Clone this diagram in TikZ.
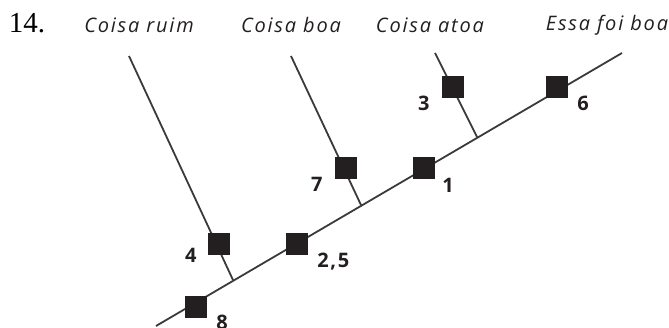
\documentclass[tikz,border=0pt]{standalone}
\usepackage{fontspec}
\setmainfont{Open Sans}
\newfontfamily\itemfont{Liberation Serif}
\newfontfamily\taxonfont[LetterSpace=9]{Open Sans}
\newfontfamily\numfont[LetterSpace=8]{Open Sans}
\usetikzlibrary{positioning}
\definecolor{linegray}{HTML}{3A3A3A}
\definecolor{boxblack}{HTML}{231F20}
\tikzset{
branch/.style={draw=linegray,line width=1.8pt},
charbox/.style={rectangle,fill=boxblack,minimum size=22pt,inner sep=0pt},
charnum/.style={inner sep=0pt,text=boxblack,font=\numfont\fontsize{20}{20}\selectfont\bfseries},
taxon/.style={inner sep=0pt,text=boxblack,font=\taxonfont\itshape\fontsize{20}{20}\selectfont}
}

\begin{document}
\begin{tikzpicture}[x=1pt,y=-1pt]
\useasboundingbox (0,0) rectangle (669,328);
% item number and taxa
\node[inner sep=0pt,font=\itemfont\fontsize{29}{29}\selectfont] (item) at (27,23) {14.};
\node[taxon] (ruim) at (139,25) {Coisa ruim};
\node[taxon] (boa) at (291,25) {Coisa boa};
\node[taxon] (atoa) at (430,25) {Coisa atoa};
\node[taxon] (foi) at (607,25) {Essa foi boa};

% tree
\coordinate (root) at (156,326);
\coordinate (tip) at (622,53);
\coordinate (jruim) at (233,280);
\coordinate (jboa) at (361,205);
\coordinate (jatoa) at (477,137);
\coordinate (truim) at (129,56);
\coordinate (tboa) at (291,56);
\coordinate (tatoa) at (435,53);
\draw[branch] (root) -- (tip);
\draw[branch] (jruim) -- (truim);
\draw[branch] (jboa) -- (tboa);
\draw[branch] (jatoa) -- (tatoa);

% characters
\node[charbox] (c8) at (196,307) {};
\node[charbox] (c4) at (219,244) {};
\node[charbox] (c25) at (297,244) {};
\node[charbox] (c7) at (346,168) {};
\node[charbox] (c1) at (424,168) {};
\node[charbox] (c3) at (453,87) {};
\node[charbox] (c6) at (557,87) {};

\node[charnum,below right=-3pt and 9pt of c8.south east] {8};
\node[charnum,below left=-7pt and 11pt of c4.south west] {4};
\node[charnum,below right=-2pt and 9pt of c25.south east] {2,5};
\node[charnum,below left=-2pt and 12pt of c7.south west] {7};
\node[charnum,below right=-1pt and 7pt of c1.south east] {1};
\node[charnum,below left=-2pt and 12pt of c3.south west] {3};
\node[charnum,below right=-2pt and 9pt of c6.south east] {6};
\end{tikzpicture}
\end{document}
